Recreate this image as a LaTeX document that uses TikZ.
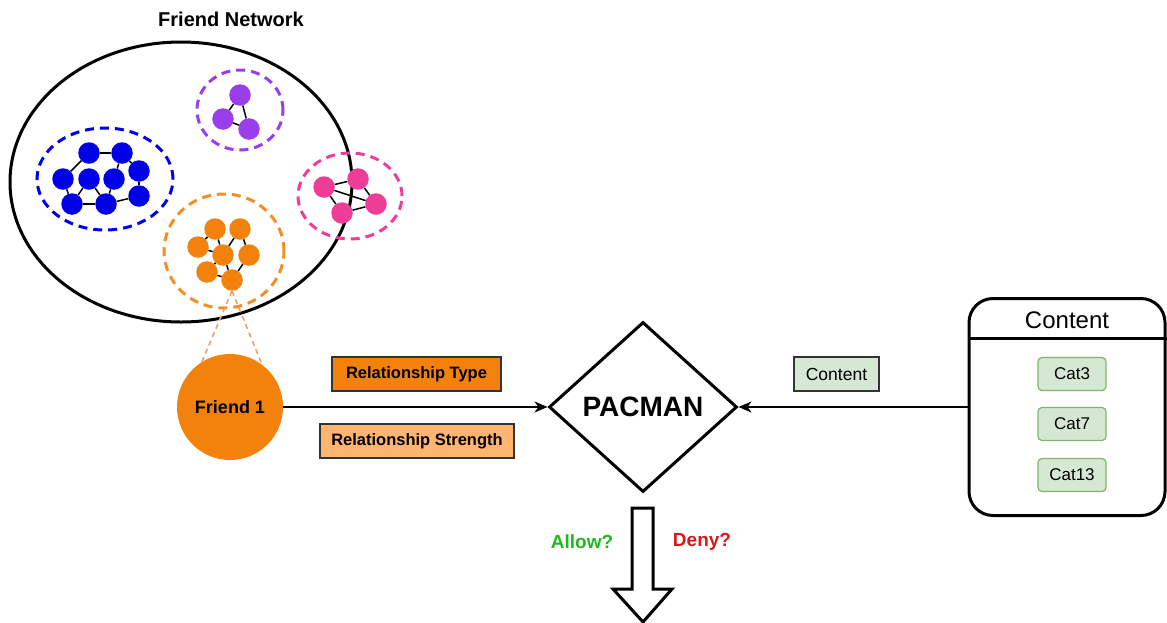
\documentclass[tikz,border=0pt]{standalone}
\usepackage{fontspec}
\setmainfont{Liberation Sans}
\usetikzlibrary{shapes.geometric,arrows.meta}
\definecolor{netblue}{HTML}{0000E8}
\definecolor{netpurple}{HTML}{9A3DEB}
\definecolor{netpink}{HTML}{EE3D96}
\definecolor{netorange}{HTML}{F3820C}
\definecolor{lightorange}{HTML}{FFB570}
\definecolor{zoomorange}{HTML}{F0A060}
\definecolor{tagline}{HTML}{333333}
\definecolor{catfill}{HTML}{D5E8D4}
\definecolor{catline}{HTML}{82B366}
\definecolor{allowgreen}{HTML}{1FB81F}
\definecolor{denyred}{HTML}{D91A1A}
\begin{document}
\begin{tikzpicture}[x=1pt,y=-1pt,
  dot/.style={circle,inner sep=0pt,minimum size=21.5pt},
  link/.style={line width=1.5pt},
  ring/.style={line width=3pt,dash pattern=on 9pt off 6pt},
  tag/.style={draw=tagline,line width=1.3pt,minimum height=34pt,inner sep=0pt,
    font=\fontsize{16.5}{20}\selectfont\bfseries},
  cat/.style={draw=catline,fill=catfill,rounded corners=4pt,line width=1.2pt,
    minimum width=68pt,minimum height=33pt,inner sep=0pt,font=\fontsize{17}{20}\selectfont},
  feed/.style={line width=1.5pt,-{Stealth[length=13pt,width=11pt,inset=4pt]}}]
\useasboundingbox (0,0) rectangle (1167,622);
\node[font=\fontsize{20}{24}\selectfont\bfseries] (title) at (231,19) {Friend Network};
\draw[line width=3pt] (181,182) ellipse [x radius=171pt,y radius=140pt];
% blue group
\draw[ring,draw=netblue] (105,179) ellipse [x radius=68pt,y radius=51pt];
\node[dot,fill=netblue] (b1) at (89,153) {};
\node[dot,fill=netblue] (b2) at (122,153) {};
\node[dot,fill=netblue] (b3) at (139,171) {};
\node[dot,fill=netblue] (b4) at (63,179) {};
\node[dot,fill=netblue] (b5) at (89,179) {};
\node[dot,fill=netblue] (b6) at (114,179) {};
\node[dot,fill=netblue] (b7) at (72,204) {};
\node[dot,fill=netblue] (b8) at (106,204) {};
\node[dot,fill=netblue] (b9) at (139,196) {};
\draw[link] (b1) -- (b2);
\draw[link] (b1) -- (b4);
\draw[link] (b2) -- (b3);
\draw[link] (b2) -- (b6);
\draw[link] (b4) -- (b7);
\draw[link] (b5) -- (b7);
\draw[link] (b5) -- (b8);
\draw[link] (b6) -- (b8);
\draw[link] (b7) -- (b8);
\draw[link] (b8) -- (b9);
\draw[link] (b3) -- (b9);
% purple group
\draw[ring,draw=netpurple] (240,110) ellipse [x radius=43pt,y radius=40pt];
\node[dot,fill=netpurple] (p1) at (240,95) {};
\node[dot,fill=netpurple] (p2) at (223,119) {};
\node[dot,fill=netpurple] (p3) at (249,129) {};
\draw[link] (p1) -- (p2);
\draw[link] (p1) -- (p3);
\draw[link] (p2) -- (p3);
% pink group
\draw[ring,draw=netpink] (350,196) ellipse [x radius=52pt,y radius=43pt];
\node[dot,fill=netpink] (k1) at (324,187) {};
\node[dot,fill=netpink] (k2) at (358,179) {};
\node[dot,fill=netpink] (k3) at (376,204) {};
\node[dot,fill=netpink] (k4) at (342,213) {};
\draw[link] (k1) -- (k2);
\draw[link] (k2) -- (k3);
\draw[link] (k1) -- (k3);
\draw[link] (k1) -- (k4);
\draw[link] (k4) -- (k3);
% orange group
\draw[ring,draw=netorange!90] (224,251) ellipse [x radius=60pt,y radius=57pt];
\node[dot,fill=netorange] (o1) at (215,229) {};
\node[dot,fill=netorange] (o2) at (240,229) {};
\node[dot,fill=netorange] (o3) at (198,247) {};
\node[dot,fill=netorange] (o4) at (223,255) {};
\node[dot,fill=netorange] (o5) at (249,255) {};
\node[dot,fill=netorange] (o6) at (207,272) {};
\node[dot,fill=netorange] (o7) at (232,280) {};
\draw[link] (o1) -- (o3);
\draw[link] (o3) -- (o4);
\draw[link] (o1) -- (o4);
\draw[link] (o2) -- (o4);
\draw[link] (o2) -- (o5);
\draw[link] (o4) -- (o6);
\draw[link] (o4) -- (o7);
\draw[link] (o6) -- (o7);
\draw[link] (o5) -- (o7);
% friend and decision
\node[circle,fill=netorange,minimum size=106pt,inner sep=0pt,
  font=\fontsize{18}{22}\selectfont\bfseries] (friend) at (230,407) {Friend 1};
\draw[zoomorange,line width=1.6pt,dash pattern=on 5pt off 4pt] (o7.south) -- (friend.122);
\draw[zoomorange,line width=1.6pt,dash pattern=on 5pt off 4pt] (o7.south) -- (friend.53);
\node[diamond,draw,line width=3pt,aspect=1.1,minimum width=188pt,minimum height=170pt,
  inner sep=0pt,font=\fontsize{28}{32}\selectfont\bfseries] (pacman) at (643,407) {PACMAN};
\node[tag,fill=netorange,minimum width=169pt] (reltype) at (416.5,374) {Relationship Type};
\node[tag,fill=lightorange,minimum width=194pt] (relstrength) at (417,441) {Relationship Strength};
\draw[feed] (friend.east) -- (pacman.west);
% content side
\node[draw,line width=3pt,rounded corners=24pt,minimum width=196pt,minimum height=217pt] (cbox) at (1067,407) {};
\node[font=\fontsize{24}{28}\selectfont] (chead) at (1067,320) {Content};
\coordinate (hline) at (0,338);
\draw[line width=3pt] (cbox.west |- hline) -- (cbox.east |- hline);
\node[cat] (cat3) at (1072,374) {Cat3};
\node[cat] (cat7) at (1072,424) {Cat7};
\node[cat] (cat13) at (1072,475) {Cat13};
\node[tag,fill=catfill,minimum width=85pt,font=\fontsize{17.5}{20}\selectfont] (ctag) at (836.5,374) {Content};
\draw[feed] (cbox.west) -- (pacman.east);
% outcome
\draw[line width=3pt] (632,508) -- (653,508) -- (653,589) -- (672,589) -- (643,622)
  -- (613,589) -- (632,589) -- cycle;
\node[font=\fontsize{19}{23}\selectfont\bfseries,text=allowgreen] (allow) at (582,542) {Allow?};
\node[font=\fontsize{19}{23}\selectfont\bfseries,text=denyred] (deny) at (702,542) {Deny?};
\end{tikzpicture}
\end{document}
